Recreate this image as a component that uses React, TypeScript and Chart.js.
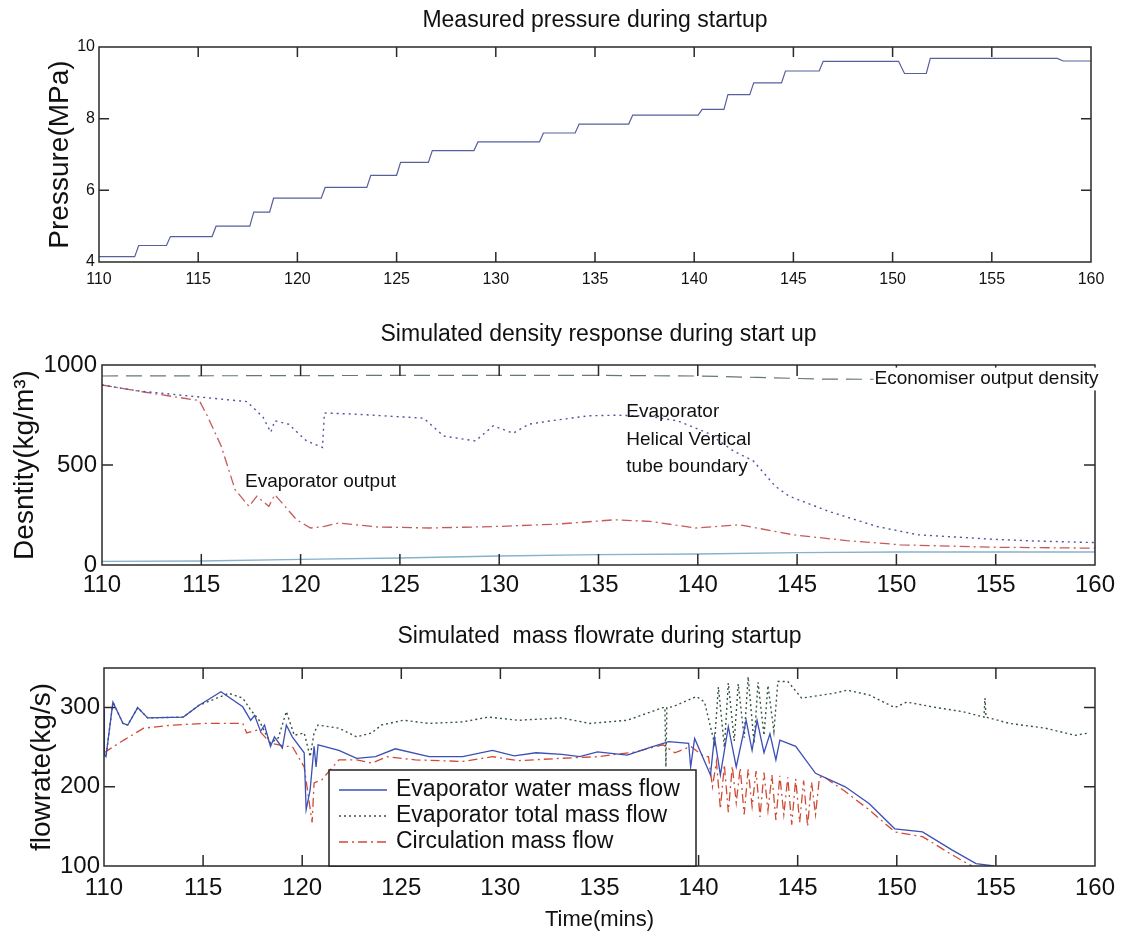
import { useEffect, useRef } from "react";
import { Chart, registerables } from "chart.js";

Chart.register(...registerables);

const FONT = "'Liberation Sans', Arial, Helvetica, sans-serif";

// ---------- shared axis ----------
const xTicks = [110, 115, 120, 125, 130, 135, 140, 145, 150, 155, 160];

// ---------- chart 1: measured pressure ----------
const pressureTicks = [4, 6, 8, 10];
const pressureTime = [110, 111.8, 112.0, 113.4, 113.6, 115.7, 115.9, 117.6, 117.8, 118.6, 118.8, 121.2, 121.4, 123.5, 123.7, 125.0, 125.2, 126.6, 126.8, 128.9, 129.1, 132.2, 132.4, 134.0, 134.2, 136.7, 136.9, 140.2, 140.4, 141.5, 141.7, 142.8, 143.0, 144.4, 144.6, 146.3, 146.5, 150.3, 150.6, 151.7, 151.9, 158.3, 158.6, 160];
const pressureValue = [4.15, 4.15, 4.46, 4.46, 4.71, 4.71, 5.0, 5.0, 5.39, 5.39, 5.78, 5.78, 6.08, 6.08, 6.42, 6.42, 6.78, 6.78, 7.11, 7.11, 7.35, 7.35, 7.6, 7.6, 7.85, 7.85, 8.1, 8.1, 8.26, 8.26, 8.67, 8.67, 9.0, 9.0, 9.33, 9.33, 9.6, 9.6, 9.26, 9.26, 9.68, 9.68, 9.61, 9.61];

// ---------- chart 2: simulated density ----------
const densityTicks = [0, 500, 1000];
const econTime = [110, 125, 135, 140, 143, 146, 150, 160];
const econValue = [945, 948, 948, 945, 938, 930, 928, 925];
const boundaryTime = [110, 111.7, 114.9, 117.3, 118.1, 118.5, 118.7, 119.4, 120.3, 121.1, 121.2, 122.8, 126.2, 127.2, 128.8, 129.7, 130.7, 131.5, 132.6, 134.5, 135.9, 137.5, 139, 140.5, 141.8, 142.8, 143.9, 144.6, 146.6, 149.0, 151.1, 154.8, 157, 160];
const boundaryValue = [900, 872, 840, 817, 740, 664, 721, 704, 620, 588, 760, 754, 734, 645, 620, 696, 659, 704, 721, 746, 749, 745, 720, 660, 570, 520, 394, 344, 268, 193, 151, 129, 120, 112];
const evapOutTime = [110, 112.1, 114.9, 115.3, 116.0, 116.7, 117.4, 117.8, 118.4, 118.7, 119.8, 120.5, 121.2, 121.9, 123.9, 126.5, 130.0, 133.0, 135.8, 137.6, 139.9, 142.1, 144.8, 147.5, 150.2, 154.8, 160];
const evapOutValue = [900, 865, 822, 746, 595, 377, 293, 344, 293, 352, 226, 185, 193, 210, 190, 185, 193, 205, 226, 218, 185, 201, 151, 122, 101, 89, 84];
const lowTime = [110, 115, 120, 125, 130, 135, 140, 145, 150, 160];
const lowValue = [18, 20, 28, 35, 45, 52, 55, 62, 65, 65];

// ---------- chart 3: simulated mass flow ----------
const flowTicks = [100, 200, 300];
const waterTime = [110, 110.02, 110.1, 110.45, 110.96, 111.2, 111.7, 112.2, 114.0, 114.8, 115.9, 117.0, 117.4, 117.6, 117.9, 118.1, 118.4, 118.6, 119.0, 119.2, 119.5, 120.1, 120.2, 120.4, 120.6, 120.7, 120.8, 121.85, 122.75, 123.7, 124.7, 126.4, 128.1, 129.6, 130.7, 131.8, 133.1, 134.0, 134.9, 136.4, 137.6, 138.5, 139.5, 139.6, 139.8, 140.6, 140.8, 141.1, 141.5, 141.9, 142.4, 142.7, 142.95, 143.3, 143.6, 143.9, 144.1, 144.9, 145.9, 147.4, 148.6, 149.9, 151.3, 152.8, 154.0, 154.9];
const waterValue = [298, 240, 238, 307, 280, 278, 300, 287, 288, 303, 320, 301, 284, 290, 270, 278, 251, 263, 249, 278, 263, 243, 171, 196, 251, 225, 253, 246, 236, 238, 248, 238, 238, 246, 239, 243, 241, 238, 244, 240, 250, 257, 255, 225, 261, 215, 263, 215, 276, 225, 284, 246, 284, 243, 267, 234, 259, 251, 217, 200, 179, 147, 143, 120, 103, 100];
const totalTime = [110, 110.02, 110.1, 110.45, 110.96, 111.2, 111.7, 112.2, 114.0, 114.8, 116.3, 117.0, 117.4, 117.8, 118.4, 118.8, 119.2, 119.6, 120.1, 120.4, 120.6, 120.8, 121.85, 122.75, 123.5, 124.0, 125.1, 126.4, 128.1, 129.4, 130.9, 133.1, 134.5, 136.4, 138.2, 138.3, 138.35, 138.4, 138.7, 139.9, 140.3, 140.8, 141.0, 141.3, 141.5, 141.8, 142.0, 142.3, 142.5, 142.8, 143.0, 143.3, 143.5, 143.8, 144.0, 144.5, 145.2, 146.8, 147.5, 148.6, 149.9, 150.5, 152.0, 153.3, 154.4, 154.45, 154.5, 155.7, 157.5, 159.0, 159.7];
const totalValue = [298, 240, 238, 307, 280, 278, 300, 287, 288, 303, 318, 312, 297, 285, 255, 262, 295, 265, 268, 238, 268, 278, 274, 263, 268, 278, 284, 280, 282, 288, 284, 287, 280, 284, 300, 300, 225, 300, 301, 314, 307, 255, 326, 250, 331, 258, 330, 262, 339, 255, 332, 265, 328, 270, 333, 333, 312, 318, 322, 316, 300, 307, 300, 295, 288, 312, 288, 280, 274, 265, 268];
const circTime = [110, 111.0, 112.0, 113.5, 115.0, 117.0, 117.2, 117.8, 118.4, 119.2, 119.5, 120.1, 120.5, 120.6, 121.0, 121.4, 121.85, 122.75, 123.5, 124.3, 125.7, 128.1, 129.6, 130.9, 133.1, 134.9, 136.8, 138.2, 138.8, 139.6, 140.3, 140.5, 140.7, 140.9, 141.1, 141.3, 141.5, 141.7, 141.9, 142.1, 142.3, 142.5, 142.7, 142.9, 143.1, 143.3, 143.5, 143.7, 143.9, 144.1, 144.3, 144.5, 144.7, 144.9, 145.1, 145.3, 145.5, 145.7, 145.9, 146.1, 146.3, 147.4, 148.6, 149.9, 151.3, 152.8, 153.5, 153.8];
const circValue = [243, 259, 274, 278, 280, 280, 268, 272, 255, 251, 251, 225, 155, 205, 209, 221, 234, 234, 230, 238, 234, 232, 238, 233, 236, 238, 244, 253, 243, 251, 238, 238, 200, 232, 172, 228, 168, 226, 180, 224, 165, 222, 175, 220, 162, 218, 170, 215, 158, 214, 165, 212, 152, 210, 155, 208, 150, 206, 165, 212, 213, 194, 171, 143, 137, 114, 104, 100];

const pts = (t: number[], v: number[]) => t.map((x, i) => ({ x, y: v[i] }));

// ---------- plugins ----------
const boxPlugin = {
  id: "matlabBox",
  afterDatasetsDraw(chart: any, _a: any, opts: any) {
    const { ctx, chartArea: a, scales } = chart;
    const L = opts.tickLen ?? 10;
    ctx.save();
    ctx.strokeStyle = "#2a2a2a";
    ctx.lineWidth = 1.5;
    ctx.setLineDash([]);
    ctx.beginPath();
    scales.x.ticks.forEach((t: any) => {
      const px = scales.x.getPixelForValue(t.value);
      if (px <= a.left + 1 || px >= a.right - 1) return;
      ctx.moveTo(px, a.bottom);
      ctx.lineTo(px, a.bottom - L);
      ctx.moveTo(px, a.top);
      ctx.lineTo(px, a.top + L);
    });
    scales.y.ticks.forEach((t: any) => {
      const py = scales.y.getPixelForValue(t.value);
      if (py <= a.top + 1 || py >= a.bottom - 1) return;
      ctx.moveTo(a.left, py);
      ctx.lineTo(a.left + L, py);
      ctx.moveTo(a.right, py);
      ctx.lineTo(a.right - L, py);
    });
    ctx.stroke();
    ctx.strokeRect(a.left, a.top, a.right - a.left, a.bottom - a.top);
    ctx.restore();
  },
};

const notesPlugin = {
  id: "notes",
  afterDatasetsDraw(chart: any, _a: any, opts: any) {
    if (!opts || !opts.items) return;
    const { ctx, scales } = chart;
    ctx.save();
    ctx.font = `${opts.size}px ${FONT}`;
    ctx.textBaseline = "middle";
    ctx.textAlign = "left";
    opts.items.forEach((it: any) => {
      const x = scales.x.getPixelForValue(it.t);
      const y0 = scales.y.getPixelForValue(it.v);
      it.lines.forEach((line: string, i: number) => {
        const y = y0 + i * opts.gap;
        if (it.bg) {
          const w = ctx.measureText(line).width;
          ctx.fillStyle = "#fff";
          ctx.fillRect(x - 1, y - opts.size * 0.6, w + 2, opts.size * 1.2);
        }
        ctx.fillStyle = "#111";
        ctx.fillText(line, x, y);
      });
    });
    ctx.restore();
  },
};

const legendPlugin = {
  id: "boxLegend",
  afterDatasetsDraw(chart: any, _a: any, opts: any) {
    if (!opts || !opts.show) return;
    const { ctx, chartArea: a } = chart;
    const { left, right, top } = opts;
    const bottom = a.bottom;
    ctx.save();
    ctx.fillStyle = "#fff";
    ctx.fillRect(left, top, right - left, bottom - top);
    ctx.strokeStyle = "#222";
    ctx.lineWidth = 1.5;
    ctx.strokeRect(left, top, right - left, bottom - top);
    ctx.font = `${opts.size}px ${FONT}`;
    ctx.textBaseline = "middle";
    ctx.textAlign = "left";
    chart.data.datasets.forEach((ds: any, i: number) => {
      const y = top + opts.firstRow + i * opts.rowGap;
      ctx.save();
      ctx.strokeStyle = ds.borderColor;
      ctx.lineWidth = ds.borderWidth;
      ctx.setLineDash(ds.borderDash || []);
      ctx.beginPath();
      ctx.moveTo(left + opts.sampleStart, y);
      ctx.lineTo(left + opts.sampleEnd, y);
      ctx.stroke();
      ctx.restore();
      ctx.fillStyle = "#111";
      ctx.fillText(ds.label, left + opts.textStart, y);
    });
    ctx.restore();
  },
};

// ---------- option builder ----------
function makeOptions(o: any) {
  return {
    responsive: false,
    animation: false as const,
    layout: { padding: { left: 0, right: o.rightPad, top: 0, bottom: 0 } },
    plugins: {
      legend: { display: false },
      tooltip: { enabled: false },
      title: {
        display: true,
        text: o.title,
        fullSize: false,
        color: "#111",
        font: { family: FONT, size: o.titleSize, weight: "normal" as const },
        padding: { top: o.titleTop, bottom: o.titleBottom },
      },
      matlabBox: { tickLen: o.tickLen },
      notes: o.notes || {},
      boxLegend: o.legend || {},
    },
    scales: {
      x: {
        type: "linear" as const,
        min: 110,
        max: 160,
        grid: { display: false, drawTicks: false },
        border: { display: false },
        afterBuildTicks: (s: any) => {
          s.ticks = xTicks.map((v) => ({ value: v }));
        },
        afterFit: (s: any) => {
          s.height = o.xHeight;
        },
        ticks: {
          color: "#111",
          padding: o.xTickPad,
          maxRotation: 0,
          autoSkip: false,
          font: { family: FONT, size: o.tickSize },
          callback: (v: any) => String(v),
        },
        title: o.xTitle
          ? {
              display: true,
              text: o.xTitle,
              color: "#111",
              font: { family: FONT, size: o.xTitleSize },
              padding: { top: 0, bottom: o.xTitleBottom },
            }
          : { display: false },
      },
      y: {
        type: "linear" as const,
        min: o.yMin,
        max: o.yMax,
        grid: { display: false, drawTicks: false },
        border: { display: false },
        afterBuildTicks: (s: any) => {
          s.ticks = o.yTicks.map((v: number) => ({ value: v }));
        },
        afterFit: (s: any) => {
          s.width = o.yWidth;
        },
        ticks: {
          color: "#111",
          padding: o.yTickPad,
          autoSkip: false,
          font: { family: FONT, size: o.tickSize },
          callback: (v: any) => String(v),
        },
        title: {
          display: true,
          text: o.yTitle,
          color: "#111",
          font: { family: FONT, size: o.yTitleSize },
          padding: { top: o.yTitlePad, bottom: 0 },
        },
      },
    },
  };
}

const line = (label: string, data: any[], color: string, dash: number[], width = 1.2) => ({
  label,
  data,
  borderColor: color,
  backgroundColor: color,
  borderDash: dash,
  borderWidth: width,
  pointRadius: 0,
  fill: false,
  tension: 0,
});

function ChartCanvas({ top, height, config }: { top: number; height: number; config: any }) {
  const ref = useRef<HTMLCanvasElement | null>(null);
  useEffect(() => {
    if (!ref.current) return;
    const chart = new Chart(ref.current, config);
    return () => chart.destroy();
  }, []);
  return (
    <canvas
      ref={ref}
      width={1123}
      height={height}
      style={{ position: "absolute", left: 0, top, width: 1123, height }}
    />
  );
}

export default function App() {
  const pressureConfig = {
    type: "line",
    data: {
      datasets: [line("Pressure", pts(pressureTime, pressureValue), "#56609c", [], 1.2)],
    },
    options: makeOptions({
      rightPad: 32,
      title: "Measured pressure during startup",
      titleSize: 23,
      titleTop: 7,
      titleBottom: 12.4,
      tickLen: 10,
      xHeight: 28,
      xTickPad: 8,
      tickSize: 16,
      yMin: 4,
      yMax: 10,
      yTicks: pressureTicks,
      yWidth: 99,
      yTickPad: 4,
      yTitle: "Pressure(MPa)",
      yTitleSize: 28,
      yTitlePad: 43,
    }),
    plugins: [boxPlugin],
  };

  const densityConfig = {
    type: "line",
    data: {
      datasets: [
        line("Economiser output density", pts(econTime, econValue), "#667a6c", [16, 8], 1.2),
        line("Evaporator Helical Vertical tube boundary", pts(boundaryTime, boundaryValue), "#4b55a3", [2, 4], 1.4),
        line("Evaporator output", pts(evapOutTime, evapOutValue), "#c65a5a", [10, 4, 2, 4], 1.3),
        line("Economiser inlet", pts(lowTime, lowValue), "#86b2cc", [], 1.3),
      ],
    },
    options: makeOptions({
      rightPad: 28,
      title: "Simulated density response during start up",
      titleSize: 23,
      titleTop: 31,
      titleBottom: 16.4,
      tickLen: 11,
      xHeight: 45,
      xTickPad: 5.6,
      tickSize: 24,
      yMin: 0,
      yMax: 1000,
      yTicks: densityTicks,
      yWidth: 102,
      yTickPad: 5,
      yTitle: "Desntity(kg/m³)",
      yTitleSize: 28,
      yTitlePad: 8,
      notes: {
        size: 19,
        gap: 27.5,
        items: [
          { t: 117.2, v: 417, lines: ["Evaporator output"] },
          { t: 136.4, v: 765, lines: ["Evaporator", "Helical Vertical", "tube boundary"] },
          { t: 148.9, v: 930, lines: ["Economiser output density"], bg: true },
        ],
      },
    }),
    plugins: [boxPlugin, notesPlugin],
  };

  const flowConfig = {
    type: "line",
    data: {
      datasets: [
        line("Evaporator water mass flow", pts(waterTime, waterValue), "#3c4fb5", [], 1.3),
        line("Evaporator total mass flow", pts(totalTime, totalValue), "#34553e", [2, 3], 1.4),
        line("Circulation mass flow", pts(circTime, circValue), "#d04a35", [9, 4, 2, 4], 1.3),
      ],
    },
    options: makeOptions({
      rightPad: 27,
      title: "Simulated  mass flowrate during startup",
      titleSize: 23,
      titleTop: 13,
      titleBottom: 17.4,
      tickLen: 11,
      xHeight: 69,
      xTickPad: 8,
      tickSize: 24,
      yMin: 100,
      yMax: 350,
      yTicks: flowTicks,
      yWidth: 104,
      yTickPad: 4,
      yTitle: "flowrate(kg/s)",
      yTitleSize: 28,
      yTitlePad: 25,
      xTitle: "Time(mins)",
      xTitleSize: 22,
      xTitleBottom: 2,
      legend: {
        show: true,
        left: 329,
        right: 696,
        top: 160,
        size: 23,
        firstRow: 20,
        rowGap: 26,
        sampleStart: 10,
        sampleEnd: 58,
        textStart: 67,
      },
    }),
    plugins: [boxPlugin, legendPlugin],
  };

  return (
    <div style={{ position: "absolute", left: 0, top: 0, width: 1123, height: 935, background: "#fff" }}>
      <ChartCanvas top={0} height={290} config={pressureConfig} />
      <ChartCanvas top={290} height={320} config={densityConfig} />
      <ChartCanvas top={610} height={325} config={flowConfig} />
    </div>
  );
}
